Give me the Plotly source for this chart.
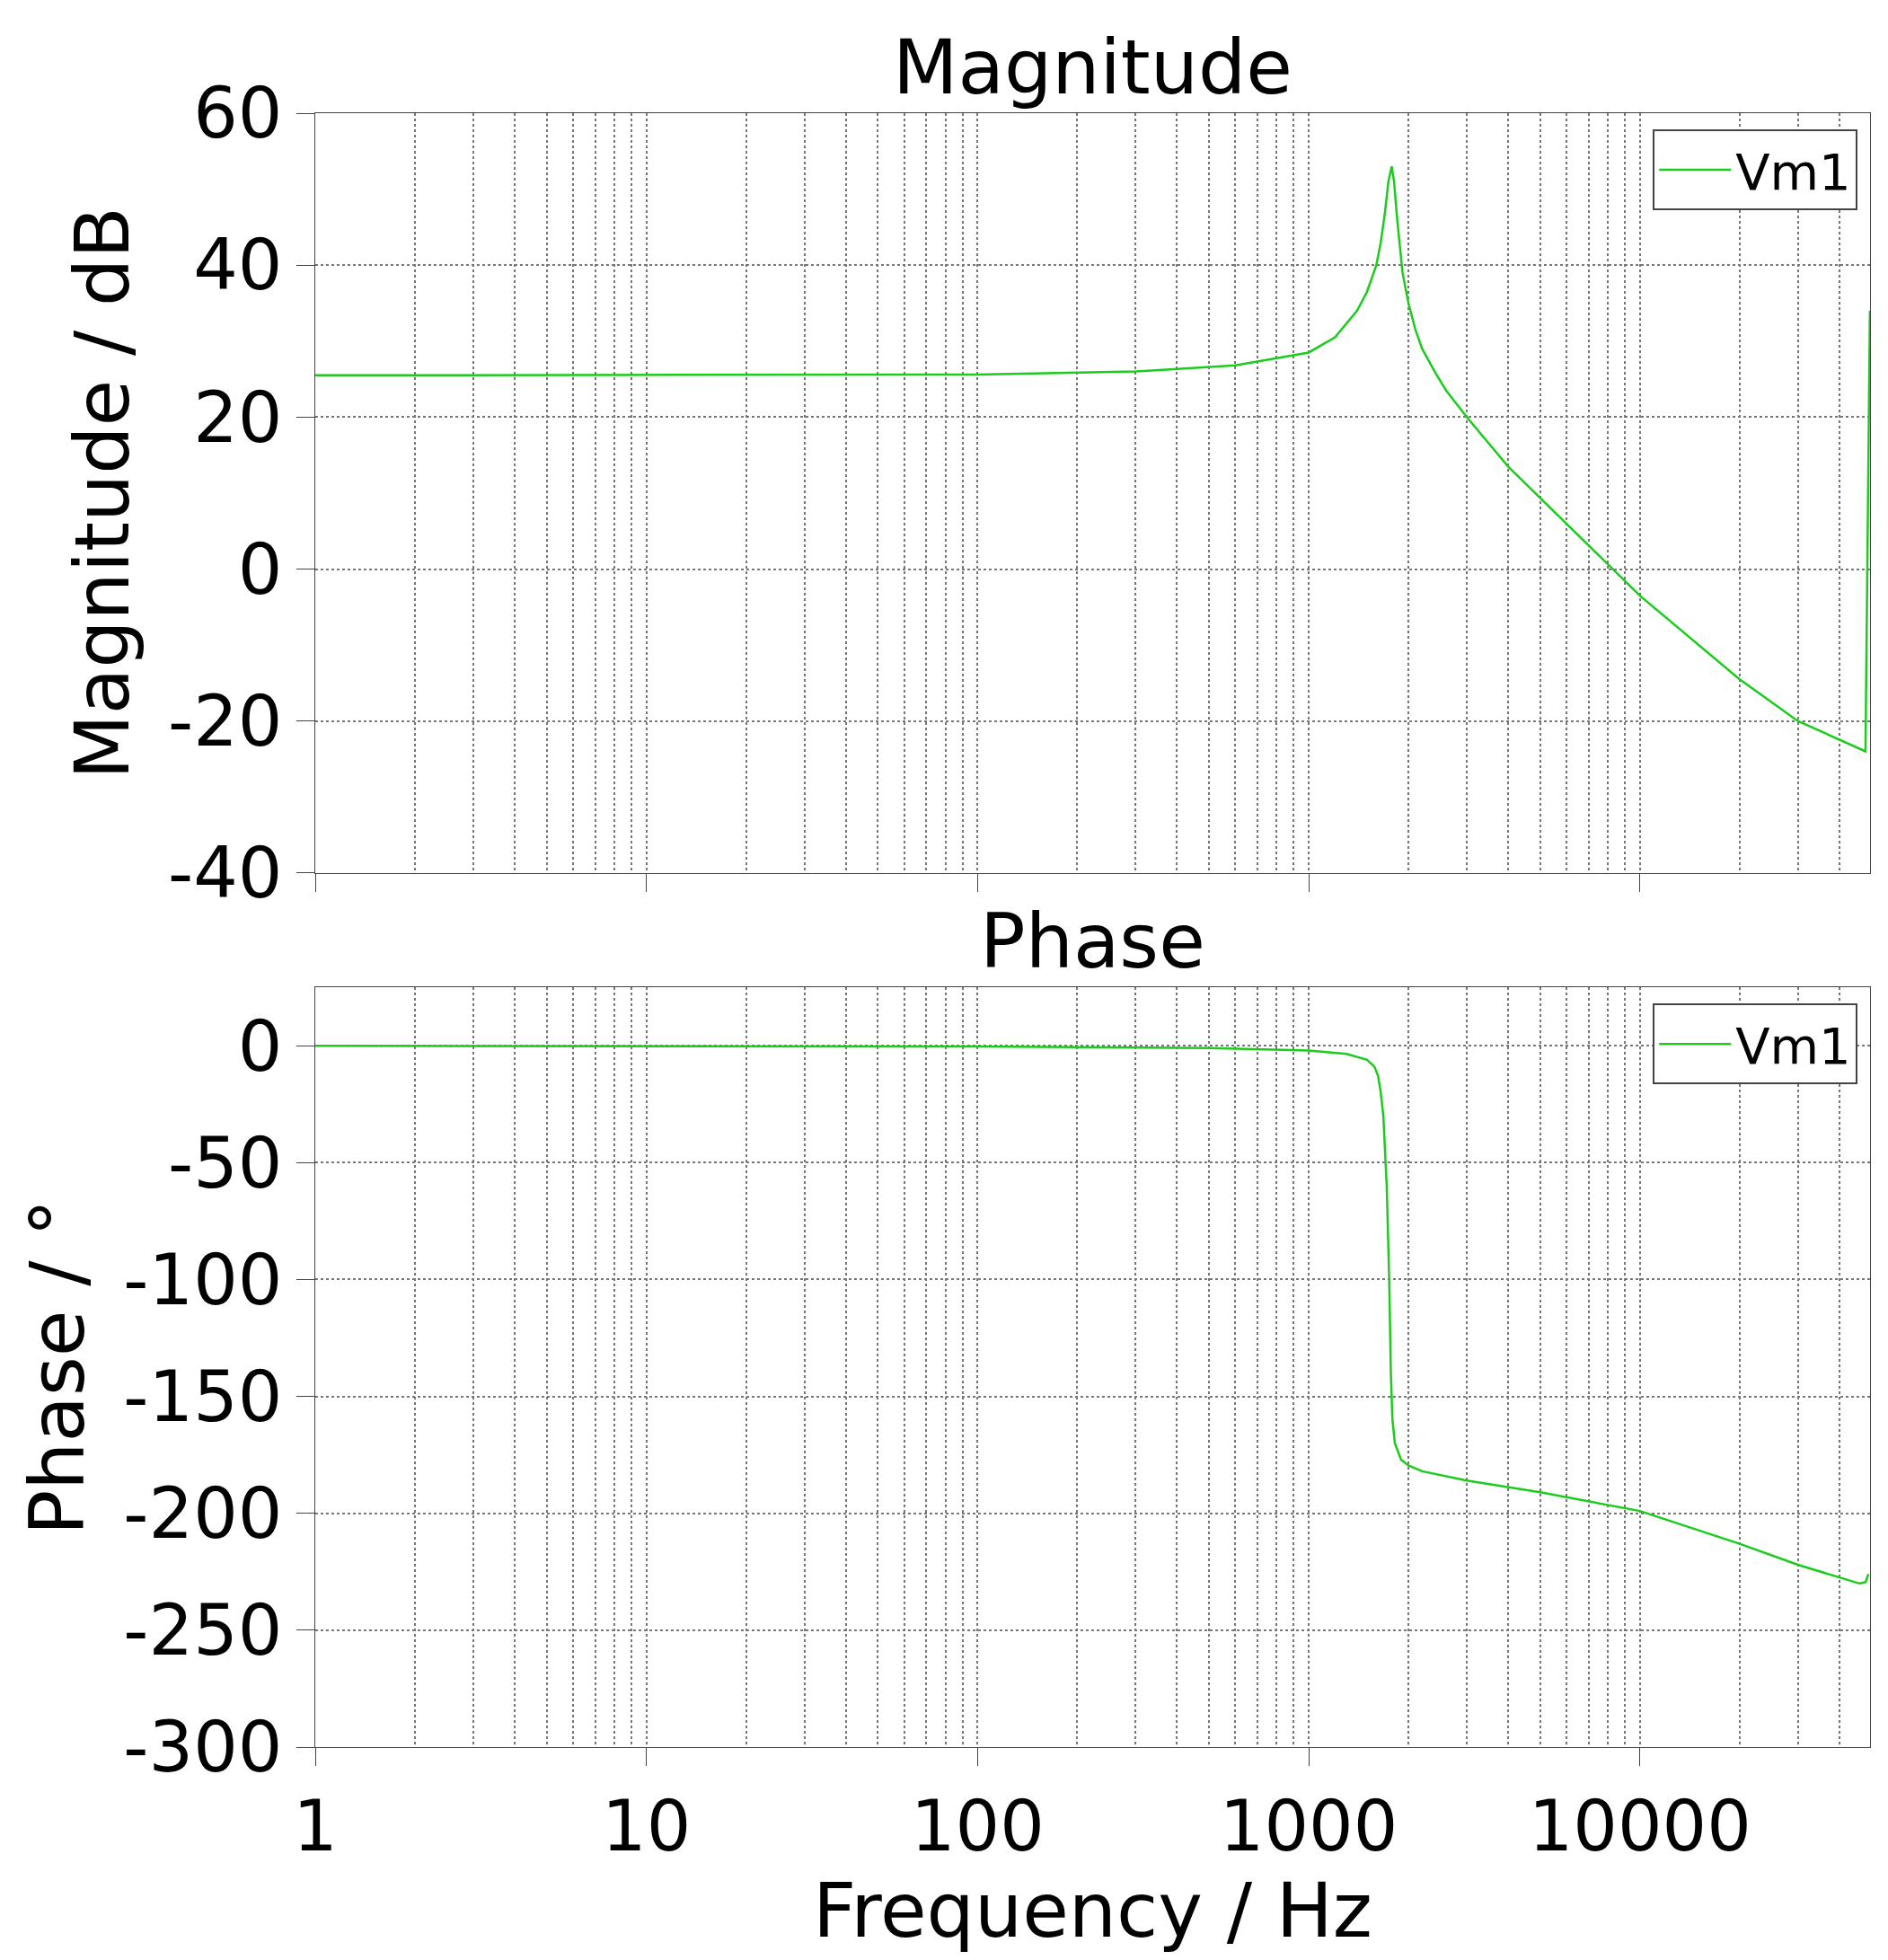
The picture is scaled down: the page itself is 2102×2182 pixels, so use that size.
import plotly.graph_objects as go
from plotly.subplots import make_subplots

mag_freq = [1, 100, 300, 600, 1000, 1200, 1400, 1500, 1600, 1650, 1700, 1740, 1780, 1810, 1850,
            1920, 2000, 2100, 2200, 2400, 2600, 3000, 4000, 6000, 10000, 20000, 30000, 48000, 49500]
mag_db = [25.5, 25.6, 26, 26.8, 28.5, 30.5, 34, 36.5, 40, 43, 47, 51, 53, 51, 46,
          39, 35, 31.5, 29, 26, 23.5, 20, 13.5, 6, -3.5, -14.5, -20, -24, 34]

ph_freq = [1, 100, 500, 1000, 1300, 1500, 1580, 1620, 1650, 1680, 1720, 1750, 1770, 1790, 1820,
           1900, 2000, 2200, 3000, 5000, 10000, 20000, 30000, 46000, 48000, 49000]
ph_deg = [0, -0.3, -1, -2, -3.5, -6, -9, -13, -20, -30, -60, -100, -140, -160, -170,
          -177, -179.5, -182, -186, -191, -199, -213, -222, -230, -229.5, -226]

green = "#1ccc1c"
font = "DejaVu Sans"

fig = make_subplots(rows=2, cols=1, vertical_spacing=0.07,
                    subplot_titles=["Magnitude", "Phase"])
fig.add_trace(go.Scatter(x=mag_freq, y=mag_db, mode="lines", name="Vm1", showlegend=True,
                         line=dict(color=green, width=2.5), legend="legend"), 1, 1)
fig.add_trace(go.Scatter(x=ph_freq, y=ph_deg, mode="lines", name="Vm1", showlegend=True,
                         line=dict(color=green, width=2.5), legend="legend2"), 2, 1)

axcommon = dict(showline=True, linecolor="#444", mirror=True, gridcolor="#777",
                griddash="dot", gridwidth=1.5, zeroline=False, ticks="outside",
                ticklen=20, tickcolor="#444", tickfont=dict(size=78))
for r in (1, 2):
    fig.update_xaxes(type="log", range=[0, 4.695], tickvals=[1, 10, 100, 1000, 10000],
                     ticktext=["1", "10", "100", "1000", "10000"],
                     minor=dict(showgrid=True, gridcolor="#777", griddash="dot", dtick="D1"),
                     showticklabels=(r == 2), row=r, col=1, **axcommon)
fig.update_xaxes(title_text="Frequency / Hz", title_font=dict(size=84), row=2, col=1)
mag_ticks = [60, 40, 20, 0, -20, -40]
ph_ticks = [0, -50, -100, -150, -200, -250, -300]
fig.update_yaxes(range=[-40, 60], tickvals=mag_ticks, ticktext=[str(v) for v in mag_ticks],
                 title_text="Magnitude / dB", title_font=dict(size=84), row=1, col=1, **axcommon)
fig.update_yaxes(range=[-300, 25], tickvals=ph_ticks, ticktext=[str(v) for v in ph_ticks],
                 title_text="Phase / °", title_font=dict(size=84), row=2, col=1, **axcommon)

for a in fig.layout.annotations:
    a.font = dict(size=84, family=font, color="black")

leg = dict(xanchor="right", yanchor="top", x=0.992, bgcolor="white", bordercolor="#444",
           borderwidth=2, font=dict(size=56), itemwidth=80)
fig.update_layout(
    width=2102, height=2182, plot_bgcolor="white", paper_bgcolor="white",
    font=dict(family=font, color="black"), showlegend=True,
    margin=dict(l=343, r=28, t=118, b=245),
    legend=dict(y=0.99, **leg), legend2=dict(y=0.455, **leg),
)
fig.write_html("out.html")
